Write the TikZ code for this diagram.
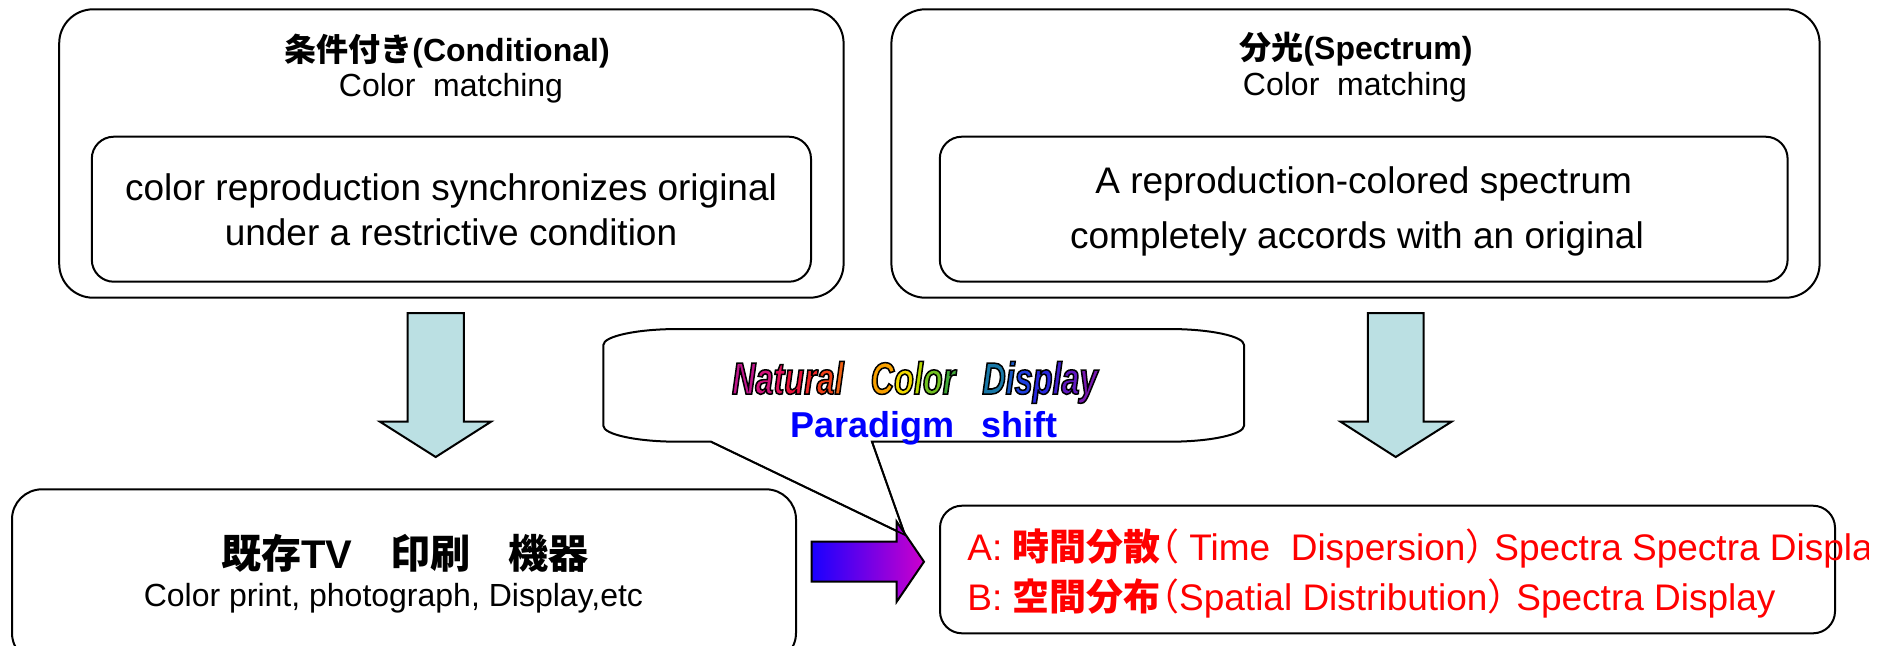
\documentclass[tikz,border=0pt]{standalone}
\usepackage{fontspec}
\setmainfont{Liberation Sans}
\newfontfamily\cjk{Noto Sans CJK JP}
% half-width forms for the brackets of the spectra lines
\newfontfamily\cjkhalf[RawFeature=+halt]{Noto Sans CJK JP}
\newfontfamily\artfont[FakeStretch=0.72]{Liberation Sans}

\definecolor{arrowfill}{HTML}{BBE0E3}
\definecolor{spectred}{HTML}{FF0000}
\definecolor{shiftblue}{HTML}{0000FF}
\definecolor{gradblue}{HTML}{1A00FF}
\definecolor{gradmag}{HTML}{CC00CC}

% outlined lettering: fill with the letter colour, stroke in black
\newcommand\artletter[2]{\textcolor[HTML]{#1}{\special{pdf:literal direct 0 0 0 RG}#2}}
\newcommand\outlineon{\special{pdf:literal direct 2 Tr 0.75 w}}
\newcommand\outlineoff{\special{pdf:literal direct 0 Tr}}

\begin{document}
\begin{tikzpicture}[x=0.5pt,y=-0.5pt,
  roundbox/.style={draw=black, line width=1pt, rounded corners=#1,
                   inner sep=0pt, outer sep=0pt},
  txt/.style={inner sep=0pt, anchor=base},
  title/.style={txt, font=\fontsize{16}{19}\selectfont\bfseries},
  sub/.style={txt, font=\fontsize{16}{19}\selectfont},
  body/.style={txt, font=\fontsize{18.5}{22}\selectfont},
  redline/.style={txt, anchor=base west, text=spectred,
                  font=\fontsize{18.5}{22}\selectfont},
  downarrow/.style={draw=black, line width=1pt, fill=arrowfill, line join=miter},
]
\useasboundingbox (0,0) rectangle (1894,645);

% --- upper frames ---
\node[roundbox=17pt, minimum width=392.2pt, minimum height=144.2pt] (condbox)   at (451.4,153.5) {};
\node[roundbox=11pt, minimum width=359.6pt, minimum height=72.5pt]  (condinner) at (451.4,209.2) {};
\node[roundbox=17pt, minimum width=464.1pt, minimum height=144.2pt] (specbox)   at (1355.5,153.5) {};
\node[roundbox=11pt, minimum width=423.9pt, minimum height=72.5pt]  (specinner) at (1363.7,209.2) {};

\node[title] (condtitle) at (447,61.7)  {{\cjk 条件付き}(Conditional)};
\node[sub]   (condsub)   at (451,96.7)  {Color\ \ matching};
\node[body]  (condl1)    at (451,200)   {color reproduction synchronizes original};
\node[body]  (condl2)    at (451,245)   {under a restrictive condition};

\node[title] (spectitle) at (1356,59)    {{\cjk 分光}(Spectrum)};
\node[sub]   (specsub)   at (1355,95.7)  {Color\ \ matching};
\node[body]  (specl1)    at (1363.7,193) {A reproduction-colored spectrum};
\node[body]  (specl2)    at (1357,248)   {completely accords with an original};

% --- down arrows ---
\draw[downarrow] (407.6,313) -- (463.8,313) -- (463.8,421.7) -- (491,421.7)
  -- (435.7,457) -- (380,421.7) -- (407.6,421.7) -- cycle;
\draw[downarrow] (1367.8,313) -- (1423.6,313) -- (1423.6,421.7) -- (1451.5,421.7)
  -- (1395.7,457) -- (1340.6,421.7) -- (1367.8,421.7) -- cycle;

% --- lower frames ---
\node[roundbox=15pt, minimum width=392pt,   minimum height=86.85pt] (legacybox) at (404,576.15) {};
\node[roundbox=11pt, minimum width=447.5pt, minimum height=63.8pt]  (newbox)    at (1387.5,569.5) {};

\node[txt, font=\fontsize{20}{24}\selectfont\bfseries] (legacytitle) at (404.6,568)
  {{\cjk 既存}TV\hspace{19pt}{\cjk 印刷}\hspace{19pt}{\cjk 機器}};
\node[sub] (legacysub) at (393.4,606.7) {Color print, photograph, Display,etc};

\begin{scope}
  \clip (940,500) rectangle (1868,640);
  \node[redline] (linea) at (967,560)
    {A: {\cjk\bfseries 時間分散}{\cjkhalf （} Time\ \ Dispersion{\cjkhalf ）} Spectra Spectra Display};
\end{scope}
\node[redline] (lineb) at (967,610)
  {B: {\cjk\bfseries 空間分布}{\cjkhalf （}Spatial Distribution{\cjkhalf ）} Spectra Display};

% --- speech bubble ---
\coordinate (bubbletip) at (905,535);
\coordinate (tailL) at (711,441.7);
\coordinate (tailR) at (872,441.7);
\draw[line width=1pt, fill=white]
  (603.3,345) .. controls (603.3,336.2) and (636.9,329) .. (678.3,329)
  -- (1169,329) .. controls (1210.4,329) and (1244,336.2) .. (1244,345)
  -- (1244,425.7) .. controls (1244,434.5) and (1210.4,441.7) .. (1169,441.7)
  -- (tailR) -- (bubbletip) -- (tailL) -- (678.3,441.7)
  .. controls (636.9,441.7) and (603.3,434.5) .. (603.3,425.7) -- cycle;

% --- gradient arrow between the lower frames ---
\draw[line width=1pt, line join=miter, left color=gradblue, right color=gradmag]
  (811.7,541.7) -- (896.7,541.7) -- (896.7,521.7) -- (924,561.7)
  -- (896.7,601.7) -- (896.7,581.7) -- (811.7,581.7) -- cycle;

% bubble tail edges stay visible over the arrow
\draw[line width=0.8pt] (tailL) -- (bubbletip) -- (tailR);

\node[txt, font=\artfont\fontsize{22.5}{26}\selectfont\bfseries\itshape] (ncd) at (914.8,394)
  {\outlineon
   \artletter{C0168C}{N}\artletter{D0127A}{a}\artletter{E0105A}{t}\artletter{E8103A}{u}%
   \artletter{F02828}{r}\artletter{F04018}{a}\artletter{F06010}{l}\hspace{13.5pt}%
   \artletter{F8A000}{C}\artletter{F0D800}{o}\artletter{B8D800}{l}\artletter{70C020}{o}%
   \artletter{40A838}{r}\hspace{13.5pt}%
   \artletter{1878A8}{D}\artletter{1858C8}{i}\artletter{2040E0}{s}\artletter{2828E0}{p}%
   \artletter{4020D0}{l}\artletter{6018C0}{a}\artletter{7818B0}{y}%
   \outlineoff};
\node[txt, font=\fontsize{18}{22}\selectfont\bfseries, text=shiftblue] (pshift) at (924.4,437.3)
  {Paradigm\hspace{0.75em}shift};
\end{tikzpicture}
\end{document}
